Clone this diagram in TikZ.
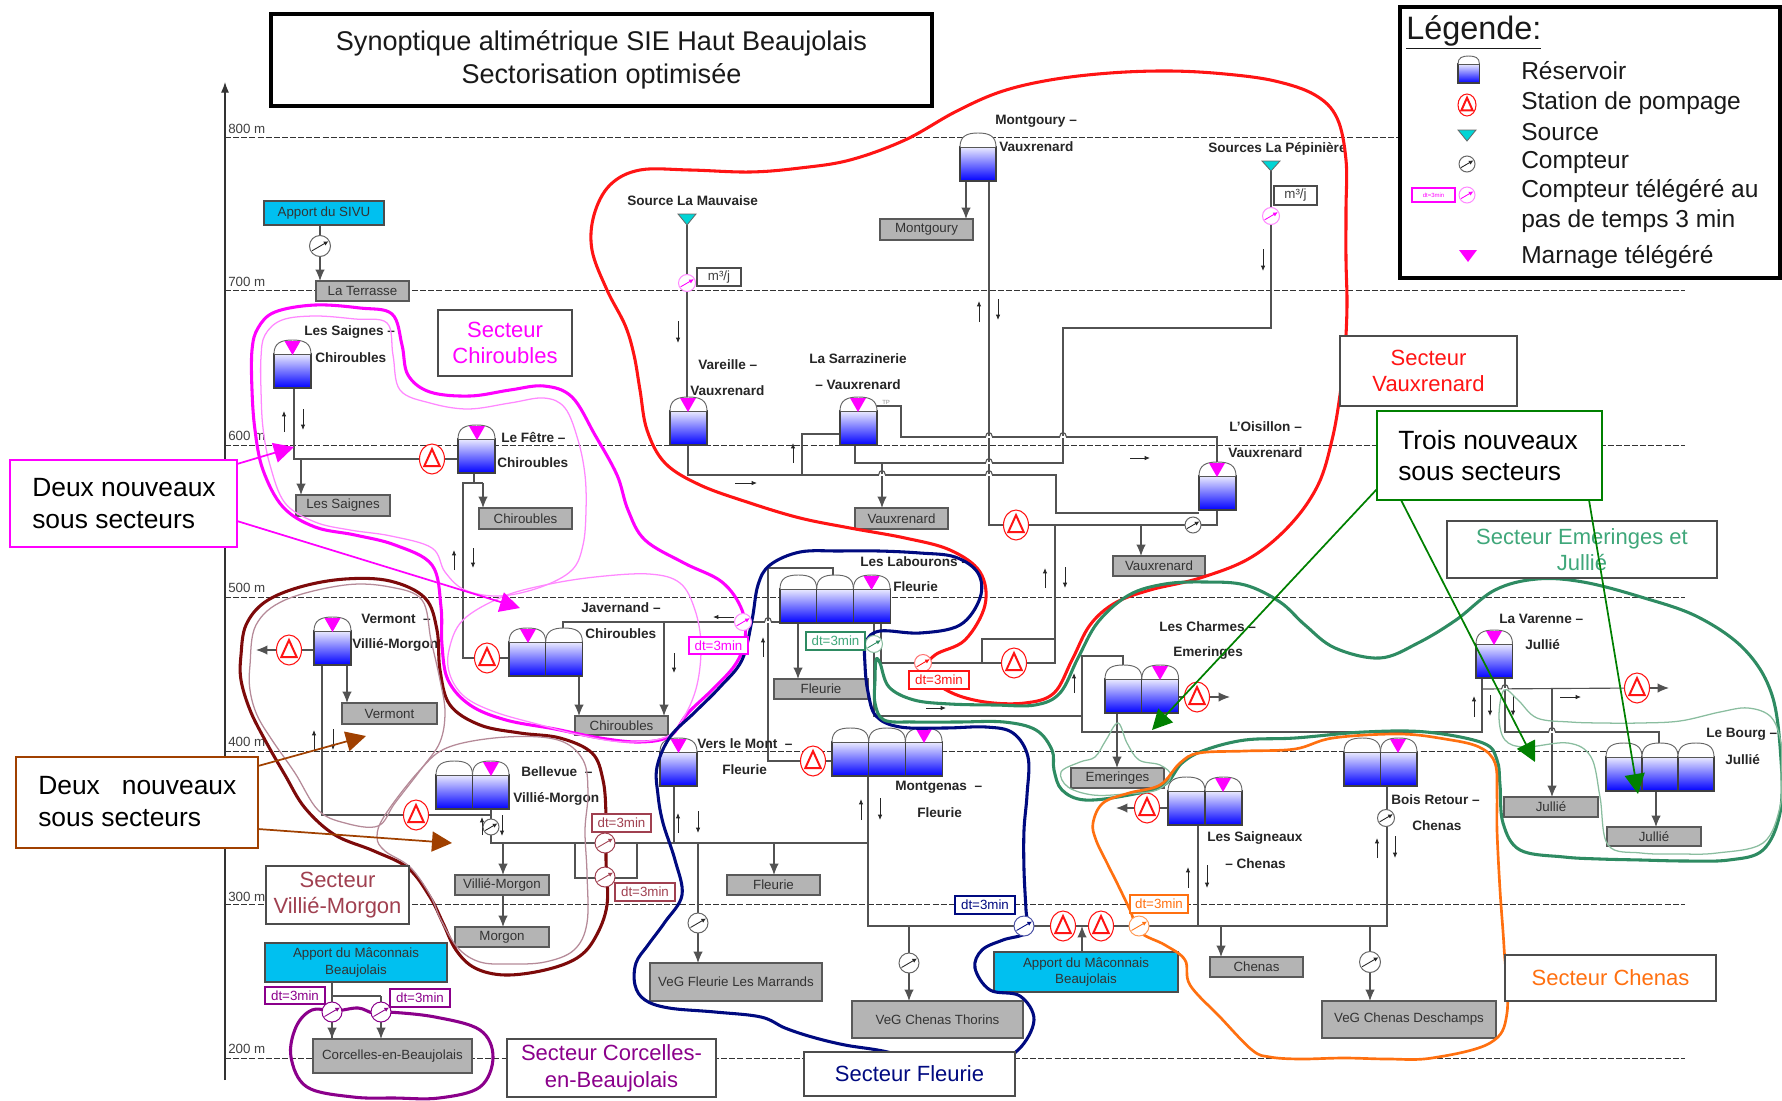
\documentclass[tikz,border=0pt]{standalone}
\usepackage{fontspec}
\setmainfont{Liberation Sans}
\usetikzlibrary{arrows.meta,shapes.geometric,calc}
\pgfdeclarelayer{back}
\pgfsetlayers{back,main}
\definecolor{cRed}{HTML}{FF1414}
\definecolor{cMag}{HTML}{FF00FF}
\definecolor{cMagL}{HTML}{FF88FF}
\definecolor{cDR}{HTML}{7D0A0A}
\definecolor{cDRL}{HTML}{B58A98}
\definecolor{cNavy}{HTML}{000A80}
\definecolor{cGreen}{HTML}{2E8B62}
\definecolor{cGreenL}{HTML}{8ABD9F}
\definecolor{cOr}{HTML}{FF7010}
\definecolor{cPur}{HTML}{8B008B}
\definecolor{cBrown}{HTML}{A04000}
\definecolor{cVM}{HTML}{A04050}
\definecolor{cGrn}{HTML}{008000}
\definecolor{cSE}{HTML}{3FA77A}
\definecolor{cCy}{HTML}{00C0F0}
\definecolor{cTri}{HTML}{00D5D5}
\definecolor{cGray}{HTML}{B4B4B4}
\tikzset{
 pipe/.style={draw=black!68,line width=.85pt},
 flow/.style={pipe,-{Latex[length=8.5pt,width=7pt]}},
 small/.style={draw=black!85,line width=.7pt,-{Latex[length=4pt,width=3.4pt]}},
 gbox/.style={draw=black!65,line width=.9pt,fill=cGray,inner sep=0,outer sep=0,text=black!80,align=center,font=\fontsize{10}{12}\selectfont},
 cbox/.style={draw=black!70,line width=.9pt,fill=cCy,inner sep=0,outer sep=0,text=black!80,align=center,font=\fontsize{10}{12.2}\selectfont},
 dtbox/.style={line width=.8pt,fill=white,inner sep=0,outer sep=0,align=center,font=\fontsize{10}{12}\selectfont},
 secbox/.style={draw=black!70,line width=.9pt,fill=white,inner sep=0,outer sep=0,align=center,font=\fontsize{16.5}{20}\selectfont},
 lab/.style={anchor=west,inner sep=0,text=black!85,font=\fontsize{10.2}{12}\selectfont\bfseries},
 axlab/.style={anchor=west,inner sep=0,text=black!75,font=\fontsize{10}{12}\selectfont},
 leg/.style={anchor=west,inner sep=0,text=black!90,font=\fontsize{18.4}{22}\selectfont},
 call/.style={anchor=west,inner sep=0,text=black,font=\fontsize{19.8}{24}\selectfont},
 dashl/.style={draw=black!80,line width=.75pt,dash pattern=on 4.5pt off 1.6pt},
 sThick/.style={line width=2.3pt},
 sThin/.style={line width=.95pt},
}
\newcount\labcnt
\newcommand\lab[3]{\global\advance\labcnt 1 \node[lab] (L\the\labcnt) at (#1,#2) {#3};}
\newcommand\rbox[6]{\node[#1,minimum width={(#5-#3)*0.75pt},minimum height={(#6-#4)*0.75pt}] (#2) at ({(#3+#5)/2},{(#4+#6)/2})}
\newcommand\tankg[6]{%
 \node[draw=black!75,line width=.8pt,top color=blue!8,bottom color=blue,inner sep=0,outer sep=0,anchor=north west,minimum width={#4*0.75pt},minimum height={#6*0.75pt}] (#1) at (#2,{#3+#5}) {};
 \draw[draw=black!60,line width=.7pt,fill=white] (#2,{#3+#5}) .. controls (#2,{#3+0.2*#5}) and ({#2+0.2*#4},#3) .. ({#2+0.5*#4},#3) .. controls ({#2+0.8*#4},#3) and ({#2+#4},{#3+0.2*#5}) .. ({#2+#4},{#3+#5});}
\newcommand\tank[4]{\tankg{#1}{#2}{#3}{#4}{14}{34}}
\newcommand\mtri[2]{\fill[cMag] ({#1-8},{#2+1}) -- ({#1+8},{#2+1}) -- (#1,{#2+15}) -- cycle;}
\newcommand\pump[5]{%
 \node[ellipse,draw=cRed,fill=white,line width=.8pt,inner sep=0,outer sep=0,minimum width={2*#4*0.75pt},minimum height={2*#5*0.75pt}] (#1) at (#2,#3) {};
 \draw[cRed,line width=1.5pt,line join=miter] ({#2-0.62*#4},{#3+0.48*#5}) -- (#2,{#3-0.66*#5}) -- ({#2+0.62*#4},{#3+0.48*#5}) -- cycle;}
\newcommand\meter[6]{%
 \node[circle,draw=#5,fill=white,line width=.75pt,minimum size={2*#4*0.75pt},inner sep=0,outer sep=0] (#1) at (#2,#3) {};
 \draw[#6,line width=.65pt,-{Latex[length=3.4pt,width=3.4pt]}] ({#2-0.75*#4},{#3+0.45*#4}) -- ({#2+0.8*#4},{#3-0.45*#4});}
\newcommand\stri[4]{\draw[black!60,line width=.6pt,fill=cTri] ({#1-0.5*#3},#2) -- ({#1+0.5*#3},#2) -- (#1,{#2+#4}) -- cycle;}
\newcommand\hopat[2]{\draw[white,line width=1.6pt] ({#1-3},#2) -- ({#1+3},#2); \draw[pipe] ({#1-3.5},#2) .. controls ({#1-2.5},{#2-6}) and ({#1+2.5},{#2-6}) .. ({#1+3.5},#2);}
\newcommand\sm[4]{\draw[small] (#1,#2) -- (#3,#4);}
\begin{document}
\begin{tikzpicture}[x=0.75pt,y=-0.75pt]
\useasboundingbox (0,0) rectangle (1782,1100);
\foreach \v in {256,294,301,320,322,332,347,381,463,474,483,491,503,563,575,579,637,664,674,687,688,698,768,774,780,798,802,833,855,868,871,874,881,882,901,909,966,982,989,1055,1056,1063,1082,1116,1117,1123,1141,1198,1217,1221,1230,1271,1370,1387,1482,1505,1552,1656,1659,1669,225,1685,1370,1152,1535,1638,294,520,366,452}{\coordinate (x\v) at (\v,0);}
\foreach \v in {82,137,171,225,290,328,397,406,410,415,434,437,445,447,459,462,463,464,475,483,489,513,521,525,568,575,597,608,622,628,639,650,656,658,663,665,688,689,697,716,730,732,736,743,751,761,762,766,776,786,794,808,815,829,843,878,904,926,996,1058,1080}{\coordinate (y\v) at (0,\v);}

% ---------- nodes: reservoirs
\tank{tSaignes}{274}{340}{37}\mtri{292.5}{340}
\tank{tFetre}{458}{425}{37}\mtri{477}{425}
\tank{tJavA}{509}{628}{36.7}\mtri{528}{628}
\tank{tJavB}{545.7}{628}{36.7}
\tank{tVerm}{314}{617}{37}\mtri{332.5}{617}
\tank{tBelA}{436}{761}{36.5}
\tank{tBelB}{472.5}{761}{36.5}\mtri{491}{761}
\tank{tVers}{660}{738}{37}\mtri{678.5}{738}
\tank{tLabA}{780}{575}{36.7}
\tank{tLabB}{816.7}{575}{36.7}
\tank{tLabC}{853.4}{575}{36.7}\mtri{871.5}{575}
\tank{tMontA}{832}{728}{36.7}
\tank{tMontB}{868.7}{728}{36.7}
\tank{tMontC}{905.4}{728}{36.7}\mtri{924}{728}
\tank{tMg}{960}{133}{36}
\tank{tVarl}{670}{397}{37}\mtri{688}{397}
\tank{tSar}{840}{397}{37}\mtri{858}{397}
\tank{tOis}{1199}{462}{37}\mtri{1217}{462}
\tank{tChA}{1105}{665}{36.8}
\tank{tChB}{1141.8}{665}{36.8}\mtri{1160}{665}
\tank{tSaA}{1168}{777}{37}
\tank{tSaB}{1205}{777}{37}\mtri{1223}{777}
\tank{tBoA}{1344}{738}{36.5}
\tank{tBoB}{1380.5}{738}{36.5}\mtri{1398}{738}
\tank{tVa}{1476}{630}{36.5}\mtri{1494}{630}
\tank{tBgA}{1606}{743}{36}
\tank{tBgB}{1642}{743}{36}
\tank{tBgC}{1678}{743}{36}

% ---------- nodes: pumps
\pump{pSaignes}{432}{459}{12.5}{15}
\pump{pJav}{487}{658}{12.5}{15}
\pump{pVerm}{289}{650}{12.5}{15}
\pump{pBel}{416}{815}{12.5}{15}
\pump{pMont}{813}{761}{12.5}{15}
\pump{pB}{1014}{663}{12.5}{15}
\pump{pV}{1016}{525}{12.5}{15}
\pump{pCh}{1197}{697}{12.5}{15}
\pump{pSa}{1147}{808}{12.5}{15}
\pump{pVar}{1637}{688}{12.5}{15}
\pump{pMa}{1063}{926}{12.5}{15}
\pump{pMb}{1101}{926}{12.5}{15}

% ---------- nodes: grey and cyan boxes
\rbox{cbox}{sivu}{264}{201}{384}{225}{Apport du SIVU};
\rbox{gbox}{terrasse}{316}{281}{409}{301}{La Terrasse};
\rbox{gbox}{bxSaignes}{296}{495}{390}{516}{Les Saignes};
\rbox{gbox}{bxChirA}{479}{508}{572}{529}{Chiroubles};
\rbox{gbox}{bxChirB}{575}{716}{668}{735}{Chiroubles};
\rbox{gbox}{bxVermont}{342}{703}{437}{724}{Vermont};
\rbox{gbox}{bxVillie}{455}{875}{549}{895}{Villié-Morgon};
\rbox{gbox}{bxMorgon}{455}{927}{549}{947}{Morgon};
\rbox{gbox}{bxFleurieA}{774}{679}{868}{699}{Fleurie};
\rbox{gbox}{bxFleurieB}{727}{875}{820}{895}{Fleurie};
\rbox{gbox}{bxMarrands}{650}{963}{822}{1001}{VeG Fleurie Les Marrands};
\rbox{gbox}{bxThorins}{852}{1001}{1023}{1038}{VeG Chenas Thorins};
\rbox{gbox}{bxVauxA}{855}{508}{948}{529}{Vauxrenard};
\rbox{gbox}{bxVauxB}{1113}{556}{1205}{576}{Vauxrenard};
\rbox{gbox}{bxMontgoury}{880}{219}{973}{240}{Montgoury};
\rbox{gbox}{bxEmeringes}{1071}{768}{1164}{788}{Emeringes};
\rbox{gbox}{bxJullieA}{1504}{797}{1598}{817}{Jullié};
\rbox{gbox}{bxJullieB}{1607}{827}{1701}{846}{Jullié};
\rbox{gbox}{bxChenas}{1210}{957}{1303}{977}{Chenas};
\rbox{gbox}{bxDeschamps}{1322}{1001}{1496}{1038}{VeG Chenas Deschamps};
\rbox{gbox}{bxCorcelles}{313}{1039}{472}{1073}{Corcelles-en-Beaujolais};
\rbox{cbox}{apA}{265}{943}{447}{982}{Apport du Mâconnais\\Beaujolais};
\rbox{cbox}{apB}{994}{952}{1178}{992}{Apport du Mâconnais\\Beaujolais};

% ---------- nodes: plain meters and m3/j boxes
\meter{mA}{320}{246}{10.5}{black!60}{black!85}
\meter{mBel}{491}{827}{8}{black!60}{black!85}
\meter{mMar}{698}{923}{10}{black!60}{black!85}
\meter{mTh}{909}{963}{10}{black!60}{black!85}
\meter{mDes}{1370}{962}{10.5}{black!60}{black!85}
\meter{mBois}{1386}{818}{8.5}{black!60}{black!85}
\meter{mO}{1193}{525}{8}{black!60}{black!85}
\rbox{dtbox,draw=black!70,text=black!75}{boxMa}{697}{268}{741}{286}{m³/j};
\rbox{dtbox,draw=black!70,text=black!75}{boxMb}{1274}{186}{1317}{205}{m³/j};
\stri{687}{214}{18}{11}
\stri{1271}{161}{18}{10}

\begin{pgfonlayer}{back}
% ---------- altitude lines and axis
\draw[dashl] (x225 |- y137) -- (1400,137);
\foreach \v in {290,445,597,751,904,1058}{\draw[dashl] (x225 |- y\v) -- (x1685 |- y\v);}
\draw[line width=.8pt,black!80,-{Latex[length=8pt,width=6pt]}] (x225 |- y1080) -- (x225 |- y82);
% ---------- pipes
\draw[pipe] (x320 |- sivu.south) -- (mA);
\draw[flow] (mA) -- (x320 |- terrasse.north);
\draw[pipe] (x294 |- tSaignes.south) -- (x294 |- y459) -- (pSaignes) -- (tFetre.west |- y459);
\draw[flow] (x301 |- y459) -- (x301 |- bxSaignes.north);
\draw[pipe] (x474 |- tFetre.south) -- (x474 |- y483);
\draw[pipe] (x483 |- y483) -- (x463 |- y483) -- (x463 |- y658) -- (pJav) -- (tJavA.west |- y658);
\draw[flow] (x483 |- y483) -- (x483 |- bxChirA.north);
\draw[pipe] (x563 |- y628) -- (x563 |- y622) -- (x780 |- y622);
\draw[flow] (x664 |- y622) -- (x664 |- bxChirB.north);
\draw[flow] (x579 |- tJavB.south) -- (x579 |- bxChirB.north);
\draw[pipe] (tVerm.west |- y650) -- (pVerm);
\draw[flow] (pVerm) -- (x256 |- y650);
\draw[flow] (x347 |- tVerm.south) -- (x347 |- bxVermont.north);
\draw[pipe] (x322 |- tVerm.south) -- (x322 |- y815) -- (pBel) -- (x491 |- y815);
\draw[pipe] (x491 |- tBelB.south) -- (x491 |- y843) -- (x868 |- y843);
\draw[pipe] (x575 |- y843) -- (x575 |- y878) -- (x637 |- y878) -- (x637 |- y843);
\draw[flow] (x503 |- y843) -- (x503 |- bxVillie.north);
\draw[flow] (x503 |- bxVillie.south) -- (x503 |- bxMorgon.north);
\draw[pipe] (x674 |- tVers.south) -- (x674 |- y843);
\draw[pipe] (x698 |- y843) -- (mMar);
\draw[flow] (mMar) -- (x698 |- bxMarrands.north);
\draw[flow] (x774 |- y843) -- (x774 |- bxFleurieB.north);
\draw[pipe] (x833 |- y575) -- (x833 |- y568) -- (x768 |- y568) -- (x768 |- y761) -- (pMont) -- (tMontA.west |- y761);
\draw[flow] (x798 |- tLabA.south) -- (x798 |- bxFleurieA.north);
\draw[pipe] (x874 |- tLabC.south) -- (x874 |- y716) -- (x1082 |- y716);
\draw[pipe] (x881 |- tLabC.south) -- (x881 |- y663) -- (pB) -- (x1055 |- y663) -- (x1055 |- y525);
\draw[pipe] (x982 |- y663) -- (x982 |- y639) -- (x1055 |- y639);
\draw[pipe] (x868 |- tMontB.south) -- (x868 |- y926) -- (x1387 |- y926) -- (x1387 |- tBoB.south);
\draw[pipe] (x1198 |- tSaA.south) -- (x1198 |- y926);
\draw[pipe] (x909 |- y926) -- (mTh);
\draw[flow] (mTh) -- (x909 |- bxThorins.north);
\draw[flow] (x1082 |- apB.north) -- (x1082 |- y926);
\draw[flow] (x1221 |- y926) -- (x1221 |- bxChenas.north);
\draw[pipe] (x1370 |- y926) -- (mDes);
\draw[flow] (mDes) -- (x1370 |- bxDeschamps.north);
\draw[pipe] (tSaA.west |- y808) -- (pSa);
\draw[flow] (pSa) -- (x1116 |- y808);
\draw[pipe] (x1123 |- y665) -- (x1123 |- y656) -- (x1082 |- y656) -- (x1082 |- y732) -- (x1482 |- y732) -- (x1482 |- tVa.south);
\draw[flow] (x1117 |- tChA.south) -- (x1117 |- bxEmeringes.north);
\draw[pipe] (tChB.east |- y697) -- (pCh);
\draw[flow] (pCh) -- (x1230 |- y697);
\draw[pipe] (x1505 |- tVa.south) -- (x1505 |- y732) -- (x1659 |- y732) -- (x1659 |- y743);
\draw[pipe] (x1482 |- y689) -- (pVar);
\draw[flow] (pVar) -- (x1669 |- y688);
\draw[flow] (x1552 |- y689) -- (x1552 |- bxJullieA.north);
\draw[flow] (x1656 |- tBgB.south) -- (x1656 |- bxJullieB.north);
\draw[flow] (x966 |- tMg.south) -- (x966 |- bxMontgoury.north);
\draw[pipe] (x989 |- tMg.south) -- (x989 |- y525) -- (pV) -- (mO) -- (x1217 |- y525) -- (x1217 |- tOis.south);
\draw[flow] (x1141 |- y525) -- (x1141 |- bxVauxB.north);
\draw[pipe] (x687 |- y225) -- (x687 |- y397);
\draw[pipe] (x688 |- tVarl.south) -- (x688 |- y475) -- (x1056 |- y475) -- (x1056 |- y513) -- (tOis.west |- y513);
\draw[pipe] (x802 |- y475) -- (x802 |- y434) -- (tSar.west |- y434);
\draw[pipe] (x855 |- tSar.south) -- (x855 |- y463) -- (x1063 |- y463) -- (x1063 |- y328) -- (x1271 |- y328) -- (x1271 |- y171);
\draw[flow] (x882 |- y463) -- (x882 |- bxVauxA.north);
\draw[pipe] (x871 |- y410) -- (x871 |- y406) -- (x901 |- y406) -- (x901 |- y437) -- (x1217 |- y437) -- (x1217 |- y462);
\draw[pipe] (x332 |- apA.south) -- (x332 |- bxCorcelles.north);
\draw[flow] (x332 |- y996) -- (x332 |- bxCorcelles.north);
\draw[pipe] (x332 |- y996) -- (x381 |- y996);
\draw[flow] (x381 |- y996) -- (x381 |- bxCorcelles.north);
% hops
\hopat{768}{622}\hopat{882}{475}\hopat{989}{475}\hopat{989}{463}\hopat{989}{437}\hopat{1063}{437}\hopat{1505}{689}\hopat{1552}{732}
% small flow arrows
\sm{284}{432}{284}{411}\sm{303}{409}{303}{430}\sm{454}{570}{454}{550}\sm{473}{548}{473}{568}
\sm{674}{653}{674}{673}\sm{734}{617}{713}{617}\sm{763}{657}{763}{637}\sm{314}{750}{314}{730}
\sm{333}{729}{333}{750}\sm{482}{835}{482}{817}\sm{502}{815}{502}{836}\sm{678}{833}{678}{813}
\sm{698}{811}{698}{833}\sm{1045}{588}{1045}{568}\sm{1065}{567}{1065}{588}\sm{926}{708}{946}{708}
\sm{1074}{693}{1074}{673}\sm{861}{820}{861}{799}\sm{880}{798}{880}{820}\sm{1188}{888}{1188}{867}
\sm{1207}{865}{1207}{888}\sm{1377}{858}{1377}{838}\sm{1395}{836}{1395}{858}\sm{979}{322}{979}{301}
\sm{998}{299}{998}{320}\sm{678}{321}{678}{343}\sm{793}{463}{793}{443}\sm{735}{483}{757}{483}
\sm{1130}{458}{1150}{458}\sm{1263}{249}{1263}{271}\sm{1474}{717}{1474}{696}\sm{1490}{695}{1490}{716}
\sm{1513}{696}{1513}{716}\sm{1560}{697}{1581}{697}
\end{pgfonlayer}

% ---------- labels
\node[axlab] (a800) at (228,129) {800 m};
\node[axlab] (a700) at (228,282) {700 m};
\node[axlab] (a600) at (228,436) {600 m};
\node[axlab] (a500) at (228,588) {500 m};
\node[axlab] (a400) at (228,742) {400 m};
\node[axlab] (a300) at (228,897) {300 m};
\node[axlab] (a200) at (228,1049) {200 m};
\lab{304}{332}{Les Saignes –}\lab{315}{358}{Chiroubles}
\lab{501}{437}{Le Fêtre –}\lab{497}{463}{Chiroubles}
\lab{581}{608}{Javernand –}\lab{585}{634}{Chiroubles}
\lab{361}{619}{Vermont\ \ –}\lab{352}{645}{Villié-Morgon}
\lab{521}{772}{Bellevue\ \ –}\lab{513}{799}{Villié-Morgon}
\lab{697}{744}{Vers le Mont\ \ –}\lab{722}{770}{Fleurie}
\lab{860}{562}{Les Labourons –}\lab{893}{587}{Fleurie}
\lab{895}{787}{Montgenas\ \ –}\lab{917}{813}{Fleurie}
\lab{995}{121}{Montgoury –}\lab{999}{147}{Vauxrenard}
\lab{627}{201}{Source La Mauvaise}
\lab{1208}{149}{Sources La Pépinière}
\lab{698}{365}{Vareille –}\lab{690}{391}{Vauxrenard}
\lab{809}{359}{La Sarrazinerie}\lab{815}{385}{– Vauxrenard}
\lab{1229}{427}{L'Oisillon –}\lab{1228}{453}{Vauxrenard}
\lab{1159}{627}{Les Charmes –}\lab{1173}{653}{Emeringes}
\lab{1207}{838}{Les Saigneaux}\lab{1225}{864}{– Chenas}
\lab{1391}{800}{Bois Retour –}\lab{1412}{826}{Chenas}
\lab{1499}{619}{La Varenne –}\lab{1525}{645}{Jullié}
\lab{1706}{734}{Le Bourg –}\lab{1725}{760}{Jullié}
\node[anchor=west,inner sep=0,text=black!45,font=\fontsize{4.5}{5}\selectfont] (tp) at (882,402) {TP};

% ---------- sector outlines
\draw[cRed,sThick] plot[smooth cycle,tension=.6] coordinates {(592,250)(594,215)(610,185)(640,170)(690,170)(750,172)(800,168)(850,160)(905,140)(955,112)(1000,92)(1050,80)(1110,73)(1170,71)(1225,74)(1275,81)(1315,95)(1337,118)(1346,160)(1346,210)(1346,260)(1347,305)(1345,350)(1340,395)(1332,440)(1318,485)(1290,525)(1250,558)(1200,578)(1150,590)(1115,603)(1090,625)(1072,660)(1054,693)(1025,703)(985,702)(950,692)(925,672)(935,655)(965,640)(985,605)(980,572)(950,550)(905,538)(850,528)(800,518)(750,503)(700,485)(665,463)(647,430)(640,390)(634,355)(625,325)(607,290)};
\draw[cMag,sThick] plot[smooth cycle,tension=.6] coordinates {(252,350)(258,328)(275,312)(315,305)(360,308)(392,314)(402,345)(408,375)(430,392)(470,396)(510,390)(544,386)(572,397)(595,435)(617,475)(628,510)(645,540)(684,563)(722,582)(742,610)(745,640)(735,665)(712,690)(688,713)(670,736)(640,742)(600,738)(555,729)(506,720)(470,705)(448,680)(442,645)(441,607)(432,565)(395,545)(355,535)(315,527)(283,507)(263,470)(255,430)(252,390)};
\draw[cMagL,sThin] plot[smooth cycle,tension=.6] coordinates {(261,357)(265,335)(282,320)(315,316)(355,319)(387,323)(393,355)(400,390)(430,403)(468,409)(510,403)(544,398)(565,408)(578,440)(585,475)(586,511)(583,545)(572,570)(541,587)(500,596)(465,590)(445,572)(432,548)(391,536)(350,530)(315,522)(285,503)(270,465)(263,428)(261,390)};
\draw[cMagL,sThin] plot[smooth cycle,tension=.6] coordinates {(449,650)(463,620)(502,597)(545,585)(595,577)(649,574)(680,583)(695,610)(701,645)(697,685)(684,717)(666,737)(624,742)(580,735)(537,724)(495,712)(465,697)(450,675)};
\draw[cDR,sThick] plot[smooth cycle,tension=.6] coordinates {(241,655)(246,625)(265,602)(300,587)(345,579)(390,581)(425,598)(437,630)(440,670)(450,705)(480,725)(520,733)(560,738)(592,753)(603,780)(606,815)(606,860)(607,905)(595,938)(577,958)(545,970)(505,975)(475,968)(456,950)(443,923)(430,897)(408,868)(374,851)(335,835)(305,808)(285,775)(265,740)(250,710)(241,680)};
\draw[cDRL,sThin] plot[smooth cycle,tension=.6] coordinates {(250,665)(256,625)(285,600)(345,585)(390,587)(422,600)(431,640)(440,680)(445,712)(440,742)(422,768)(395,803)(378,826)(345,823)(318,810)(295,773)(272,740)(257,715)(250,690)};
\draw[cDRL,sThin] plot[smooth cycle,tension=.6] coordinates {(377,837)(385,815)(420,770)(449,747)(506,737)(558,740)(583,760)(588,793)(585,830)(587,873)(587,923)(574,950)(545,962)(510,964)(480,962)(458,948)(441,920)(430,895)(410,867)(385,851)};
\draw[cNavy,sThick] plot[smooth cycle,tension=.6] coordinates {(800,552)(840,551)(879,551)(920,553)(955,557)(978,573)(980,598)(960,625)(920,633)(880,631)(866,642)(865,665)(868,692)(876,716)(900,727)(945,728)(986,727)(1013,733)(1028,757)(1027,795)(1024,830)(1024,870)(1026,910)(1027,932)(1003,940)(982,950)(975,968)(990,990)(1020,996)(1034,1020)(1018,1050)(985,1065)(930,1062)(883,1051)(845,1045)(812,1037)(785,1028)(761,1017)(715,1012)(669,1008)(645,1000)(635,985)(636,963)(648,945)(665,922)(682,895)(675,860)(663,823)(658,795)(657,767)(670,737)(695,712)(720,687)(742,660)(752,620)(758,585)(770,565)};
\draw[cGreen,sThick] plot[smooth cycle,tension=.6] coordinates {(880,663)(889,687)(914,700)(950,704)(995,705)(1035,705)(1060,693)(1078,658)(1098,622)(1129,595)(1165,584)(1205,582)(1245,585)(1280,602)(1305,625)(1335,648)(1380,658)(1418,643)(1456,620)(1495,590)(1537,579)(1583,582)(1641,597)(1698,617)(1745,650)(1772,695)(1781,760)(1780,813)(1763,850)(1729,860)(1685,861)(1641,860)(1600,859)(1564,857)(1520,850)(1503,823)(1500,785)(1497,760)(1483,743)(1426,732)(1364,732)(1295,738)(1245,740)(1205,750)(1182,763)(1164,785)(1129,795)(1085,800)(1062,790)(1054,770)(1052,750)(1036,730)(1004,722)(958,722)(914,722)(884,720)(875,703)(875,680)(876,660)};
\draw[cGreenL,sThin] plot[smooth cycle,tension=.6] coordinates {(1061,772)(1080,762)(1095,757)(1106,740)(1118,723)(1127,743)(1139,760)(1160,765)(1171,776)(1157,790)(1125,794)(1093,795)(1068,787)};
\draw[cGreenL,sThin] plot[smooth cycle,tension=.6] coordinates {(1499,717)(1504,690)(1518,700)(1537,718)(1570,722)(1602,723)(1640,723)(1680,721)(1720,712)(1748,708)(1771,717)(1781,743)(1781,775)(1780,807)(1763,843)(1717,853)(1680,854)(1641,853)(1608,845)(1600,797)(1591,757)(1568,743)(1525,747)(1505,740)};
\draw[cOr,line width=2pt] plot[smooth cycle,tension=.6] coordinates {(1180,763)(1199,753)(1245,751)(1295,749)(1333,738)(1399,734)(1445,739)(1479,747)(1495,763)(1497,795)(1497,830)(1500,890)(1504,947)(1507,1013)(1490,1043)(1432,1058)(1388,1059)(1344,1058)(1300,1059)(1270,1057)(1252,1050)(1220,1017)(1190,985)(1185,960)(1165,945)(1140,932)(1130,910)(1118,885)(1107,863)(1096,840)(1093,823)(1103,803)(1129,793)(1160,785)};
\draw[cPur,sThick] plot[smooth cycle,tension=.6] coordinates {(335,1011)(312,1010)(296,1027)(291,1057)(307,1087)(353,1097)(395,1098)(439,1098)(480,1087)(493,1057)(480,1030)(435,1017)(388,1012)(373,1013)(358,1008)};

% ---------- telemetered meters and dt boxes
\meter{mJav}{743}{622}{8.5}{cMagL}{cMag}
\meter{mMau}{687}{283}{8.5}{cMagL}{cMag}
\meter{mPep}{1271}{216}{8.5}{cMagL}{cMag}
\meter{mVa}{605}{843}{10}{cVM}{cVM}
\meter{mVb}{605}{877}{10}{cVM}{cVM}
\meter{mGr}{874}{644}{8.5}{cGreenL}{cGreen}
\meter{mRd}{923}{663}{8.5}{cRed!60}{cRed}
\meter{mNv}{1024}{926}{10}{cNavy!70}{cNavy}
\meter{mOr}{1139}{926}{10}{cOr!70}{cOr}
\meter{mCa}{332}{1012}{10}{cPur}{cPur}
\meter{mCb}{381}{1012}{10}{cPur}{cPur}
\rbox{dtbox,draw=cMag,text=cMag}{dtJav}{689}{637}{748}{654}{dt=3min};
\rbox{dtbox,draw=cVM,text=cVM}{dtVa}{592}{814}{651}{832}{dt=3min};
\rbox{dtbox,draw=cVM,text=cVM}{dtVb}{615}{883}{675}{901}{dt=3min};
\rbox{dtbox,draw=cGreen,text=cSE}{dtGr}{806}{632}{865}{650}{dt=3min};
\rbox{dtbox,draw=cRed,text=cRed}{dtRd}{909}{671}{969}{689}{dt=3min};
\rbox{dtbox,draw=cNavy,text=cNavy}{dtNv}{955}{896}{1015}{914}{dt=3min};
\rbox{dtbox,draw=cOr,text=cOr}{dtOr}{1130}{895}{1188}{913}{dt=3min};
\rbox{dtbox,draw=cPur,text=cPur}{dtCa}{265}{987}{325}{1004}{dt=3min};
\rbox{dtbox,draw=cPur,text=cPur}{dtCb}{390}{989}{450}{1007}{dt=3min};

% ---------- sector captions
\rbox{secbox,text=cMag}{secChir}{438}{310}{572}{376}{Secteur\\Chiroubles};
\rbox{secbox,text=cRed}{secVaux}{1340}{336}{1517}{406}{Secteur\\Vauxrenard};
\rbox{secbox,text=cSE}{secEm}{1447}{521}{1717}{578}{Secteur Emeringes et\\Jullié};
\rbox{secbox,text=cVM}{secVM}{266}{866}{409}{924}{Secteur\\Villié-Morgon};
\rbox{secbox,text=cPur}{secCo}{507}{1039}{716}{1097}{Secteur Corcelles-\\en-Beaujolais};
\rbox{secbox,text=cNavy}{secFl}{804}{1052}{1015}{1096}{Secteur Fleurie};
\rbox{secbox,text=cOr}{secCh}{1505}{955}{1716}{1001}{Secteur Chenas};

% ---------- title
\rbox{draw=black,line width=2.6pt,fill=white,inner sep=0,outer sep=0,align=center,font=\fontsize{20.3}{25}\selectfont,text=black!90}{title}{271}{14}{932}{106}{Synoptique altimétrique SIE Haut Beaujolais\\Sectorisation optimisée};

% ---------- legend
\rbox{draw=black,line width=2.6pt,fill=white,inner sep=0,outer sep=0}{legend}{1400}{7}{1780}{278}{};
\node[anchor=west,inner sep=0,text=black!90,font=\fontsize{24.3}{28}\selectfont] (lgT) at (1406,32) {\underline{Légende:}};
\node[leg] (lgA) at (1521,71) {Réservoir};
\node[leg] (lgB) at (1521,103) {Station de pompage};
\node[leg] (lgC) at (1521,132) {Source};
\node[leg] (lgD) at (1521,162) {Compteur};
\node[leg] (lgE) at (1521,191) {Compteur télégéré au};
\node[leg] (lgF) at (1521,221) {pas de temps 3 min};
\node[leg] (lgG) at (1521,257) {Marnage télégéré};
\tankg{lgTank}{1458}{56}{21.4}{8}{19}
\pump{lgPump}{1467}{105}{9}{11}
\stri{1467}{130}{18}{11}
\meter{lgM}{1467}{164}{8}{black!60}{black!85}
\meter{lgMm}{1467}{195}{8}{cMagL}{cMag}
\rbox{dtbox,draw=cMag,text=cMag,font=\fontsize{4.5}{5}\selectfont}{lgDt}{1412}{188}{1455}{202}{dt=3min};
\fill[cMag] (1459,250) -- (1477,250) -- (1468,262) -- cycle;

% ---------- callouts
\coordinate (tipA) at (x294 |- y447);
\coordinate (tipB) at (x520 |- y608);
\coordinate (tipC) at (x366 |- y736);
\coordinate (tipD) at (x452 |- y843);
\coordinate (tipE) at (x1152 |- y730);
\coordinate (tipF) at (x1535 |- y762);
\coordinate (tipG) at (x1638 |- y794);
\rbox{draw=cMag,line width=1.4pt,fill=white,inner sep=0,outer sep=0}{calM}{10}{460}{237}{547}{};
\rbox{draw=cBrown,line width=1.4pt,fill=white,inner sep=0,outer sep=0}{calB}{16}{757}{258}{848}{};
\rbox{draw=cGrn,line width=1.4pt,fill=white,inner sep=0,outer sep=0}{calG}{1377}{411}{1602}{500}{};
\node[call] (tM1) at (32,488) {Deux nouveaux};
\node[call] (tM2) at (32,520) {sous secteurs};
\node[call] (tB1) at (38,786) {Deux\ \ \ nouveaux};
\node[call] (tB2) at (38,818) {sous secteurs};
\node[call] (tG1) at (1398,440) {Trois nouveaux};
\node[call] (tG2) at (1398,472) {sous secteurs};
\draw[cMag,line width=1.3pt,-{Triangle[length=15pt,width=15pt]}] (calM.east |- y464) -- (tipA);
\draw[cMag,line width=1.3pt,-{Triangle[length=15pt,width=15pt]}] (calM.east |- y521) -- (tipB);
\draw[cBrown,line width=1.3pt,-{Triangle[length=15pt,width=15pt]}] (calB.east |- y766) -- (tipC);
\draw[cBrown,line width=1.3pt,-{Triangle[length=15pt,width=15pt]}] (calB.east |- y829) -- (tipD);
\draw[cGrn,line width=1.3pt,-{Triangle[length=15pt,width=15pt]}] (calG.west |- y489) -- (tipE);
\coordinate (gF) at (1401,500);
\coordinate (gG) at (1589,500);
\draw[cGrn,line width=1.3pt,-{Triangle[length=15pt,width=15pt]}] (gF) -- (tipF);
\draw[cGrn,line width=1.3pt,-{Triangle[length=15pt,width=15pt]}] (gG) -- (tipG);
\end{tikzpicture}
\end{document}
